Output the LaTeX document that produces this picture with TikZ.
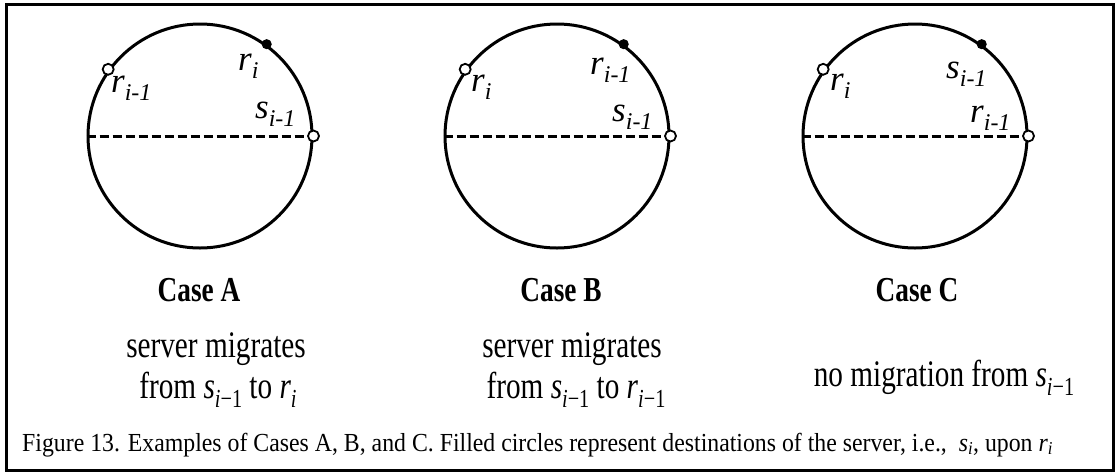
\documentclass[tikz,border=0pt]{standalone}
\usepackage{fontspec}
\setmainfont{Liberation Serif}[FakeStretch=0.78]
\newfontfamily\lblfont{Liberation Serif}
\newfontfamily\capfont{Liberation Serif}[FakeStretch=0.915]
\tikzset{
  x=1pt, y=-1pt,
  ring/.style={circle, draw, line width=3pt, minimum size=224pt, inner sep=0pt},
  opendot/.style={circle, draw, fill=white, line width=1.8pt, minimum size=11pt, inner sep=0pt},
  fulldot/.style={circle, draw, fill=black, line width=1pt, minimum size=9pt, inner sep=0pt},
  diam/.style={line width=3pt, dash pattern=on 9pt off 4pt},
  lbl/.style={anchor=base west, inner sep=0pt, font=\lblfont\fontsize{35}{35}\selectfont\itshape},
  casel/.style={anchor=base, inner sep=0pt, font=\fontsize{35}{35}\selectfont\bfseries},
  desc/.style={anchor=base, inner sep=0pt, font=\fontsize{37.5}{37.5}\selectfont},
  captext/.style={anchor=base west, inner sep=0pt, font=\capfont\fontsize{26}{26}\selectfont},
  dsub/.style={}
}
\newcommand{\lowsub}[1]{\raisebox{-8pt}{\fontsize{24}{24}\selectfont #1}}
\newcommand{\dscsub}[1]{\raisebox{-9pt}{\fontsize{26}{26}\selectfont #1}}
\begin{document}
\begin{tikzpicture}
\useasboundingbox (0,0) rectangle (1116,475);
\draw[line width=3pt] (6,4) rectangle (1113,470);
% circles
\node[ring] (cA) at (200,136) {};
\node[ring] (cB) at (557,136) {};
\node[ring] (cC) at (915,136) {};
\foreach \c in {A,B,C}{
  \node[opendot] (o\c) at (c\c.0) {};
  \node[opendot] (p\c) at (c\c.144) {};
  \node[fulldot] (f\c) at (c\c.54) {};
  \draw[diam] (c\c.180) -- (o\c.west);
}
% labels A
\node[lbl] (lA1) at (111,92) {r\lowsub{i-1}};
\node[lbl] (lA2) at (238,70) {r\lowsub{i}};
\node[lbl] (lA3) at (255,118) {s\lowsub{i-1}};
% labels B
\node[lbl] (lB1) at (471,91) {r\lowsub{i}};
\node[lbl] (lB2) at (590,74) {r\lowsub{i-1}};
\node[lbl] (lB3) at (612,121) {s\lowsub{i-1}};
% labels C
\node[lbl] (lC1) at (830,90) {r\lowsub{i}};
\node[lbl] (lC2) at (946,78) {s\lowsub{i-1}};
\node[lbl] (lC3) at (970,122) {r\lowsub{i-1}};
% case titles
\node[casel] (tA) at (199,301) {Case A};
\node[casel] (tB) at (561,301) {Case B};
\node[casel] (tC) at (917,301) {Case C};
% descriptions
\node[desc] (dA1) at (216,357) {server migrates};
\node[desc] (dA2) at (218,398) {from \textit{s}\dscsub{\textit{i}−1} to \textit{r}\dscsub{\textit{i}}};
\node[desc] (dB1) at (572,357) {server migrates};
\node[desc] (dB2) at (576,398) {from \textit{s}\dscsub{\textit{i}−1} to \textit{r}\dscsub{\textit{i}−1}};
\node[desc] (dC) at (944,386) {no migration from \textit{s}\dscsub{\textit{i}−1}};
% caption
\node[captext] (capt) at (22,451) {Figure 13. Examples of Cases A, B, and C. Filled circles represent destinations of the server, i.e.,\ \ \textit{s}\textsubscript{\textit{i}}, upon \textit{r}\textsubscript{\textit{i}}};
\end{tikzpicture}
\end{document}
